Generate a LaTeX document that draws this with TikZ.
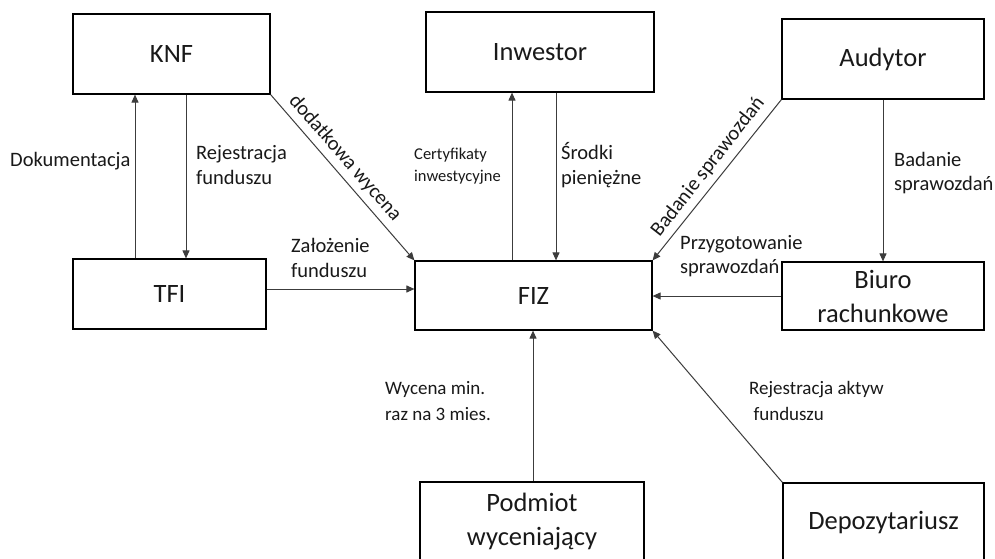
\documentclass[tikz,border=0pt]{standalone}
\usepackage{fontspec}
\setmainfont{Carlito}
\usetikzlibrary{arrows.meta}
\definecolor{linegray}{RGB}{60,60,60}
\definecolor{txt}{RGB}{25,25,25}
\begin{document}
\begin{tikzpicture}[x=1pt,y=-1pt,
  box/.style={draw=black, line width=1.2pt, fill=white, align=center, text=txt,
    font=\fontsize{26.5}{34}\selectfont, inner sep=0pt},
  arr/.style={draw=linegray, line width=1pt, -{Triangle[length=8pt,width=7pt]}},
  lbl/.style={text=txt, font=\fontsize{20.5}{24.5}\selectfont, align=left, inner sep=0pt, anchor=west},
  small/.style={text=txt, font=\fontsize{16.5}{22}\selectfont, align=left, inner sep=0pt, anchor=west}]
\useasboundingbox (0,0) rectangle (995,559);
\fill[white] (0,0) rectangle (995,559);
\begin{scope}
\clip (0,0) rectangle (995,559);
\node[box, minimum width=197pt, minimum height=80pt] (knf) at (171.5,54) {KNF};
\node[box, minimum width=228pt, minimum height=80pt] (inw) at (540,52) {Inwestor};
\node[box, minimum width=202pt, minimum height=80pt] (aud) at (883,59) {Audytor};
\node[box, minimum width=193pt, minimum height=70pt] (tfi) at (169.5,294) {TFI};
\node[box, minimum width=237pt, minimum height=69pt] (fiz) at (533.5,295.5) {FIZ};
\node[box, minimum width=202pt, minimum height=68pt] (biuro) at (883,296) {Biuro\\rachunkowe};
\node[box, minimum width=224pt, minimum height=80pt] (podm) at (532,522) {Podmiot\\wyceniający};
\node[box, minimum width=201pt, minimum height=80pt] (depo) at (883.5,523) {Depozytariusz};
\end{scope}

\draw[arr] (tfi.north -| 135,0) -- (knf.south -| 135,0);
\draw[arr] (knf.south -| 186,0) -- (tfi.north -| 186,0);
\draw[arr] (knf.south east) -- (fiz.north west);
\draw[arr] (tfi.east |- 0,289) -- (fiz.west |- 0,289);
\draw[arr] (fiz.north -| 512,0) -- (inw.south -| 512,0);
\draw[arr] (inw.south -| 556,0) -- (fiz.north -| 556,0);
\draw[arr] (aud.south west) -- (fiz.north east);
\draw[arr] (aud.south) -- (biuro.north);
\draw[arr] (biuro.west) -- (fiz.east |- biuro.west);
\draw[arr] (podm.north -| 533,0) -- (fiz.south -| 533,0);
\draw[arr] (depo.north west) -- (fiz.south east);

\node[lbl] (l1) at (10,161) {Dokumentacja};
\node[lbl] (l2) at (196,165) {Rejestracja\\funduszu};
\node[lbl] (l3) at (291,258) {Założenie\\funduszu};
\node[small] (l4) at (414,166) {Certyfikaty\\inwestycyjne};
\node[lbl] (l5) at (561,165) {Środki\\pieniężne};
\node[lbl] (l6) at (894,173) {Badanie\\sprawozdań};
\node[lbl] (l7) at (680,256) {Przygotowanie\\sprawozdań};
\node[lbl, font=\fontsize{19}{26}\selectfont] (l8) at (385,401) {Wycena min.\\raz na 3 mies.};
\node[lbl, font=\fontsize{19}{26}\selectfont] (l9) at (749,401) {Rejestracja aktyw\\\ funduszu};
\node[text=txt, font=\fontsize{20.5}{24}\selectfont, rotate=-49, inner sep=0pt] (l10) at (345,158) {dodatkowa wycena};
\node[text=txt, font=\fontsize{20.5}{24}\selectfont, rotate=52, inner sep=0pt] (l11) at (708,167) {Badanie sprawozdań};
\end{tikzpicture}
\end{document}
